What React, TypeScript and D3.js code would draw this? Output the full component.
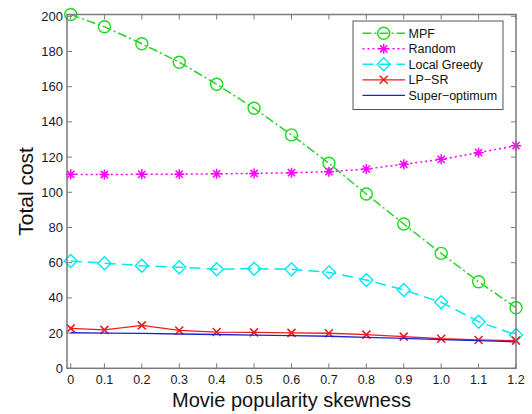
import React from "react";
import * as d3 from "d3";

// Skewness values (first point sits just right of zero)
const skew = [0.01, 0.1, 0.2, 0.3, 0.4, 0.5, 0.6, 0.7, 0.8, 0.9, 1.0, 1.1, 1.2];
const xTickLabels = ["0", "0.1", "0.2", "0.3", "0.4", "0.5", "0.6", "0.7", "0.8", "0.9", "1.0", "1.1", "1.2"];
const yTicks = [0, 20, 40, 60, 80, 100, 120, 140, 160, 180, 200];

const mpf = [201, 194, 184.4, 173.9, 161.4, 147.7, 132.6, 116.5, 99, 82, 65.3, 49.2, 34.4];
const random = [110.2, 110.1, 110.2, 110.3, 110.5, 110.7, 111.1, 111.7, 113.2, 115.9, 118.7, 122.5, 126.5];
const localGreedy = [61, 59.7, 58.3, 57.4, 56.3, 56.6, 56.3, 54.5, 50.2, 44.5, 37.5, 26.5, 18.9];
const lpsr = [22.7, 21.8, 24.4, 21.5, 20.6, 20.4, 20.1, 19.9, 19.1, 18, 16.8, 16.1, 15.7];
const superOpt = [20.2, 20.0, 19.8, 19.5, 19.2, 18.9, 18.6, 18.2, 17.6, 17.0, 16.3, 15.7, 15.0];

type Marker = "circle" | "star" | "diamond" | "cross" | "none";
interface Series {
  name: string;
  values: number[];
  color: string;
  dash: string;
  width: number;
  marker: Marker;
}

const series: Series[] = [
  { name: "MPF", values: mpf, color: "#1fd81f", dash: "9,3,2,3", width: 1.5, marker: "circle" },
  { name: "Random", values: random, color: "#ff00ff", dash: "2,3", width: 1.5, marker: "star" },
  { name: "Local Greedy", values: localGreedy, color: "#00e8f0", dash: "11,6", width: 1.5, marker: "diamond" },
  { name: "LP\u2212SR", values: lpsr, color: "#ee1c1c", dash: "", width: 1.3, marker: "cross" },
  { name: "Super\u2212optimum", values: superOpt, color: "#2222cc", dash: "", width: 1.3, marker: "none" },
];

const W = 532;
const H = 414;
const left = 67;
const right = 516;
const top = 14.5;
const bottom = 368.3;

const FONT = "'Liberation Sans', Arial, Helvetica, sans-serif";

function MarkerShape({ kind, cx, cy, color }: { kind: Marker; cx: number; cy: number; color: string }) {
  const sw = 1.4;
  if (kind === "circle") {
    return <circle cx={cx} cy={cy} r={6} fill="none" stroke={color} strokeWidth={sw} />;
  }
  if (kind === "diamond") {
    const s = 6.5;
    return (
      <path
        d={`M${cx},${cy - s}L${cx + s},${cy}L${cx},${cy + s}L${cx - s},${cy}Z`}
        fill="none"
        stroke={color}
        strokeWidth={sw}
      />
    );
  }
  if (kind === "cross") {
    const s = 4;
    return (
      <path
        d={`M${cx - s},${cy - s}L${cx + s},${cy + s}M${cx - s},${cy + s}L${cx + s},${cy - s}`}
        stroke={color}
        strokeWidth={1.6}
      />
    );
  }
  if (kind === "star") {
    const s = 5;
    const d = s * 0.72;
    return (
      <path
        d={`M${cx - s},${cy}L${cx + s},${cy}M${cx},${cy - s}L${cx},${cy + s}M${cx - d},${cy - d}L${cx + d},${cy + d}M${cx - d},${cy + d}L${cx + d},${cy - d}`}
        stroke={color}
        strokeWidth={1.5}
      />
    );
  }
  return null;
}

export default function App() {
  const x = d3.scaleLinear().domain([0, 1.2]).range([left, right]);
  const y = d3.scaleLinear().domain([0, 201]).range([bottom, top]);

  const line = (vals: number[]) =>
    d3
      .line<number>()
      .x((_, i) => x(skew[i]))
      .y((v) => y(v))(vals) as string;

  const axisColor = "#7a7a7a";
  const tickLen = 5;

  // Legend layout
  const lgX = 353;
  const lgY = 21;
  const lgW = 150;
  const lgH = 88.5;
  const rowY0 = 33.3;
  const rowStep = 15.5;

  return (
    <svg
      width={W}
      height={H}
      style={{ position: "absolute", left: 0, top: 0, background: "#fff" }}
      fontFamily={FONT}
    >
      <rect x={0} y={0} width={W} height={H} fill="#fff" />

      {/* ticks on all four sides, pointing inward */}
      {skew.map((t, i) => (
        <g key={`xt${i}`} stroke={axisColor} strokeWidth={1}>
          <line x1={x(t)} x2={x(t)} y1={bottom} y2={bottom - tickLen} />
          <line x1={x(t)} x2={x(t)} y1={top} y2={top + tickLen} />
        </g>
      ))}
      {yTicks.map((t) => (
        <g key={`yt${t}`} stroke={axisColor} strokeWidth={1}>
          <line x1={left} x2={left + tickLen} y1={y(t)} y2={y(t)} />
          <line x1={right} x2={right - tickLen} y1={y(t)} y2={y(t)} />
        </g>
      ))}

      {/* series */}
      {series.map((s) => (
        <g key={s.name}>
          <path
            d={line(s.values)}
            fill="none"
            stroke={s.color}
            strokeWidth={s.width}
            strokeDasharray={s.dash || undefined}
          />
          {s.values.map((v, i) => (
            <MarkerShape key={i} kind={s.marker} cx={x(skew[i])} cy={y(v)} color={s.color} />
          ))}
        </g>
      ))}

      {/* axes box */}
      <rect
        x={left}
        y={top}
        width={right - left}
        height={bottom - top}
        fill="none"
        stroke={axisColor}
        strokeWidth={1.5}
      />

      {/* tick labels */}
      {skew.map((t, i) => (
        <text
          key={`xl${i}`}
          x={x(t)}
          y={bottom + 15.5}
          fontSize={12.5}
          textAnchor="middle"
          fill="#1a1a1a"
        >
          {xTickLabels[i]}
        </text>
      ))}
      {yTicks.map((t) => (
        <text
          key={`yl${t}`}
          x={left - 4}
          y={y(t) + 4.5}
          fontSize={13}
          textAnchor="end"
          fill="#1a1a1a"
        >
          {t}
        </text>
      ))}

      {/* axis titles */}
      <text
        x={(left + right) / 2}
        y={406.5}
        fontSize={20}
        textAnchor="middle"
        fill="#111"
      >
        Movie popularity skewness
      </text>
      <text
        transform={`translate(33,${(top + bottom) / 2}) rotate(-90)`}
        fontSize={21}
        textAnchor="middle"
        fill="#111"
      >
        Total cost
      </text>

      {/* legend */}
      <rect x={lgX} y={lgY} width={lgW} height={lgH} fill="#fff" stroke="#555" strokeWidth={1} />
      {series.map((s, i) => {
        const cy = rowY0 + i * rowStep;
        return (
          <g key={`lg${s.name}`}>
            <line
              x1={362.5}
              x2={405}
              y1={cy}
              y2={cy}
              stroke={s.color}
              strokeWidth={s.width}
              strokeDasharray={s.dash || undefined}
            />
            <MarkerShape kind={s.marker} cx={383.7} cy={cy} color={s.color} />
            <text x={408.5} y={cy + 4.5} fontSize={12.5} fill="#111">
              {s.name}
            </text>
          </g>
        );
      })}
    </svg>
  );
}
